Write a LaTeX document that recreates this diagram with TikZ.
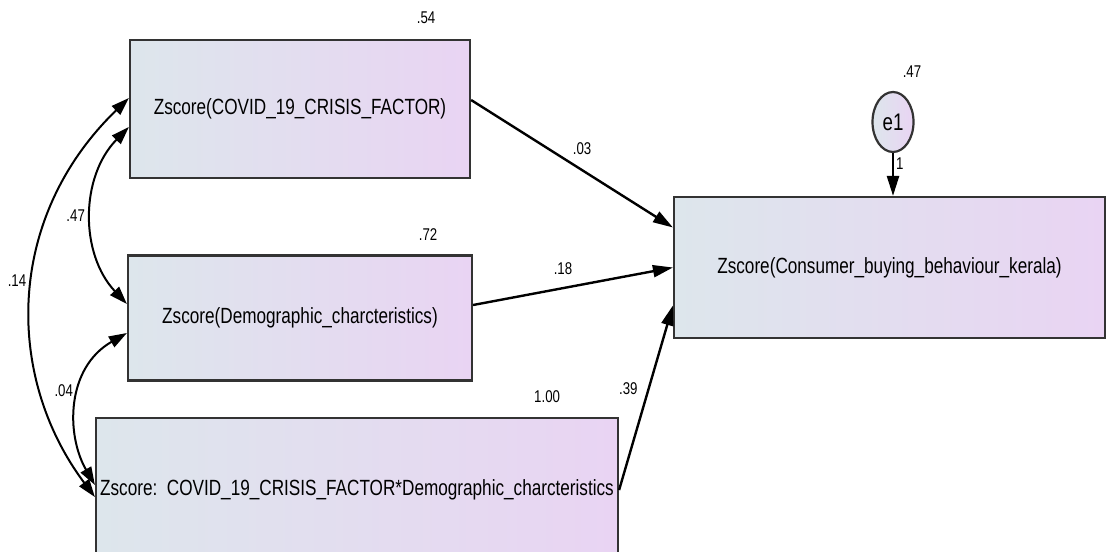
\documentclass[tikz,border=0pt]{standalone}
\usepackage{xcolor}
\usepackage{fontspec}
\setmainfont{Liberation Sans}[FakeStretch=0.78]
\usepackage{tikz}
\usetikzlibrary{shapes.geometric, arrows.meta}

\definecolor{zleft}{RGB}{221,230,236}
\definecolor{zright}{RGB}{233,212,243}

\begin{document}
\begin{tikzpicture}[x=0.5pt, y=-0.5pt, font=\fontsize{11}{13}\selectfont]
	\tikzstyle{zbox} = [rectangle, draw=black!80, line width=1.1pt, left color=zleft, right color=zright, inner sep=0pt]
	
	\tikzstyle{err} = [ellipse, draw=black!80, line width=1.1pt, left color=zleft, right color=zright, minimum width=20.5pt, minimum height=30pt, inner sep=0pt, font=\fontsize{12}{14}\selectfont]
	
	\tikzstyle{est} = [font=\fontsize{8.5}{10}\selectfont, inner sep=1pt]
	
	\tikzstyle{arrow} = [-{Triangle[length=10pt, width=6pt]}, line width=1.2pt]
	\tikzstyle{covar} = [{Triangle[length=9pt, width=6pt]}-{Triangle[length=9pt, width=6pt]}, line width=1pt]
	
	\path[use as bounding box, clip] (0,0) rectangle (1107,551);
	
	% Observed variables
	\node (x1) [zbox, minimum width=170pt, minimum height=69pt] at (300,109) {Zscore(COVID\_19\_CRISIS\_FACTOR)};
	\node (x2) [zbox, minimum width=172pt, minimum height=62.5pt] at (300,318) {Zscore(Demographic\_charcteristics)};
	\node (x3) [zbox, minimum width=261pt, minimum height=72pt] at (357,490) {Zscore:~~COVID\_19\_CRISIS\_FACTOR*Demographic\_charcteristics};
	\node (y) [zbox, minimum width=215.5pt, minimum height=70.5pt] at (889.5,267.5) {Zscore(Consumer\_buying\_behaviour\_kerala)};
	
	% Error term
	\node (e1) [err] at (893,122) {e1};
	
	% Variances
	\node (v1) [est, anchor=south] at ([xshift=-22.5pt, yshift=6.5pt]x1.north east) {.54};
	\node (v2) [est, anchor=south] at ([xshift=-22.5pt, yshift=6pt]x2.north east) {.72};
	\node (v3) [est, anchor=south] at ([xshift=-36pt, yshift=6pt]x3.north east) {1.00};
	\node (v4) [est, anchor=south] at ([xshift=9.5pt, yshift=5.5pt]e1.north) {.47};
	
	% Paths
	\draw [arrow] ([yshift=4.5pt]x1.east) -- node[est, pos=0.55, above=6pt] (p1) {.03} ([yshift=20pt]y.west);
	\draw [arrow] ([yshift=6.5pt]x2.east) -- node[est, pos=0.45, above=5pt] (p2) {.18} (y.west);
	\draw [arrow] (x3.east) -- node[est, pos=0.55, left=4pt] (p3) {.39} ([yshift=-19pt]y.west);
	\draw [arrow] (e1.south) -- node[est, pos=0.25, right] (p4) {1} (e1.south |- y.north);
	
	% Covariances
	\draw [covar] ([yshift=-9pt]x1.west) .. controls +(-49,50) and +(-47,-50) .. node[est, pos=0.5, left=2pt] (c1) {.47} ([yshift=7pt]x2.west);
	\draw [covar] ([yshift=5.5pt]x1.west) .. controls +(-124,120) and +(-90,-120) .. node[est, pos=0.46, left=2pt] (c2) {.14} ([yshift=-3.5pt]x3.west);
	\draw [covar] ([yshift=-7.5pt]x2.west) .. controls +(-61,35) and +(-29,-50) .. node[est, pos=0.42, left=2pt] (c3) {.04} ([yshift=2.5pt]x3.west);
\end{tikzpicture}
\end{document}
